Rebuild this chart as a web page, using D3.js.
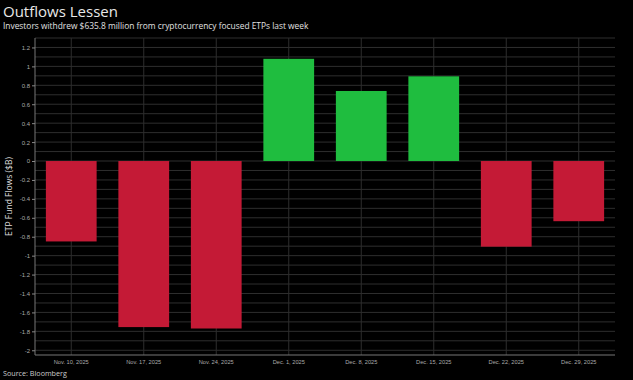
<!DOCTYPE html>
<html><head><meta charset="utf-8">
<script src="https://cdn.jsdelivr.net/npm/d3@7/dist/d3.min.js"></script>
<style>
html,body{margin:0;padding:0;background:#000;}
svg{display:block;font-family:"Open Sans","DejaVu Sans",sans-serif;}
</style></head><body>
<svg id="chart" width="633" height="380"></svg>
<script>
const categories = ["Nov. 10, 2025","Nov. 17, 2025","Nov. 24, 2025","Dec. 1, 2025","Dec. 8, 2025","Dec. 15, 2025","Dec. 22, 2025","Dec. 29, 2025"];
const flows = [-0.85, -1.755, -1.77, 1.08, 0.74, 0.895, -0.905, -0.636];
const yTicks = [1.2,1,0.8,0.6,0.4,0.2,0,-0.2,-0.4,-0.6,-0.8,-1,-1.2,-1.4,-1.6,-1.8,-2];
const yGrid = d3.range(-20, 14).map(i => i / 10);

(function () {
const svg = d3.select("#chart");
const W = 633, H = 380;
svg.append("rect").attr("width", W).attr("height", H).attr("fill", "#000");

const mLeft = 35, mRight = 615, mTop = 38, mBottom = 355;
const x = d3.scaleBand().domain(categories).range([mLeft, mRight]).paddingInner(0.3).paddingOuter(0.15);
const y = d3.scaleLinear().domain([-2.05, 1.3]).range([mBottom, mTop]);

svg.append("g").selectAll("line").data(yGrid).join("line")
  .attr("x1", mLeft).attr("x2", mRight)
  .attr("y1", d => y(d)).attr("y2", d => y(d))
  .attr("stroke", "#2e2e2e").attr("stroke-width", 1);
svg.append("g").selectAll("line").data(categories).join("line")
  .attr("x1", d => x(d) + x.bandwidth()/2).attr("x2", d => x(d) + x.bandwidth()/2)
  .attr("y1", mTop).attr("y2", mBottom)
  .attr("stroke", "#2e2e2e").attr("stroke-width", 1);

svg.append("g").selectAll("rect").data(flows).join("rect")
  .attr("x", (d, i) => x(categories[i]))
  .attr("width", x.bandwidth())
  .attr("y", d => y(Math.max(0, d)))
  .attr("height", d => Math.abs(y(d) - y(0)))
  .attr("fill", d => d >= 0 ? "#1fbd3f" : "#c41a36");

const yAxis = d3.axisLeft(y).tickValues(yTicks).tickSize(3).tickPadding(2)
  .tickFormat(d => String(d));
const gy = svg.append("g").attr("transform", `translate(${mLeft},0)`).call(yAxis);
gy.select(".domain").attr("stroke", "#777").attr("d", `M0,${mTop}V${mBottom}`);
gy.selectAll(".tick line").attr("stroke", "#888");
gy.selectAll(".tick text").attr("fill", "#aaa").style("font-size", "6px");

const xAxis = d3.axisBottom(x).tickSize(0).tickPadding(5);
const gx = svg.append("g").attr("transform", `translate(0,${mBottom})`).call(xAxis);
gx.select(".domain").attr("stroke", "#777").attr("d", `M${mLeft},0H${mRight}`);
gx.selectAll(".tick text").attr("fill", "#aaa").style("font-size", "5.7px");

svg.append("text").attr("transform", `translate(12,${(mTop+mBottom)/2}) rotate(-90)`)
  .attr("text-anchor", "middle").attr("fill", "#ddd").style("font-size", "8.5px")
  .text("ETP Fund Flows ($B)");

svg.append("text").attr("x", 3).attr("y", 17).attr("fill", "#e8e8e8")
  .style("font-size", "15px").text("Outflows Lessen");
svg.append("text").attr("x", 3).attr("y", 29).attr("fill", "#e0e0e0")
  .style("font-size", "8.4px").text("Investors withdrew $635.8 million from cryptocurrency focused ETPs last week");
svg.append("text").attr("x", 3).attr("y", 376).attr("fill", "#ccc")
  .style("font-size", "7.2px").text("Source: Bloomberg");
})();
</script>
</body></html>
